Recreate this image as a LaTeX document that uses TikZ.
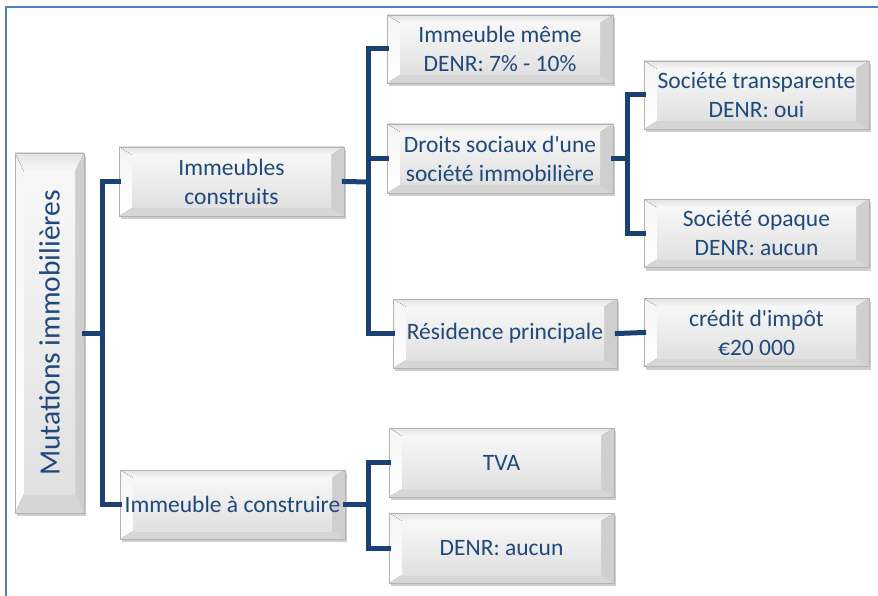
\documentclass[tikz,border=0pt]{standalone}
\usepackage{fontspec}
\setmainfont{Carlito}
\usetikzlibrary{calc,shadows}
\definecolor{txtblue}{RGB}{31,73,125}
\definecolor{connc}{RGB}{27,64,115}
\definecolor{framec}{RGB}{79,129,189}
\newcommand\bevelpic[2]{%
  \coordinate (pNW) at (path picture bounding box.north west);
  \coordinate (pNE) at (path picture bounding box.north east);
  \coordinate (pSE) at (path picture bounding box.south east);
  \coordinate (pSW) at (path picture bounding box.south west);
  \coordinate (qNW) at ($(pNW)+(#1,#2)$);
  \coordinate (qNE) at ($(pNE)+(-#1,#2)$);
  \coordinate (qSE) at ($(pSE)+(-#1,-#2)$);
  \coordinate (qSW) at ($(pSW)+(#1,-#2)$);
  \fill[top color=gray!22,bottom color=gray!6] (pNW)--(pNE)--(qNE)--(qNW)--cycle;
  \fill[top color=gray!8,bottom color=white] (pNW)--(qNW)--(qSW)--(pSW)--cycle;
  \fill[gray!38] (pNE)--(pSE)--(qSE)--(qNE)--cycle;
  \fill[gray!32] (pSW)--(qSW)--(qSE)--(pSE)--cycle;
  \shade[top color=gray!6,bottom color=gray!24] (qNW) rectangle (qSE);
}
\tikzset{
  box/.style={draw=gray!60, line width=0.8pt, text=txtblue, align=center,
    font=\fontsize{23.5}{29}\selectfont, inner sep=1pt,
    minimum width=225, minimum height=69,
    drop shadow={shadow xshift=2pt, shadow yshift=-3pt, fill=gray!70, opacity=0.55},
    path picture={\bevelpic{13}{8}}},
  rootbox/.style={box, minimum width=69, minimum height=360,
    font=\fontsize{29.5}{35}\selectfont,
    path picture={\bevelpic{9}{19}}},
  conn/.style={draw=connc, line width=5pt, line join=miter, line cap=rect},
}
\begin{document}
\begin{tikzpicture}[x=1pt,y=-1pt]
\useasboundingbox (0,0) rectangle (878,596);
\draw[framec, line width=1.8pt] (6,7) rectangle (900,620);

% nodes
\node[rootbox] (root) at (49.5,333) {\rotatebox{90}{Mutations immobilières}};
\node[box] (ic) at (231.5,181.5) {Immeubles\\construits};
\node[box] (iac) at (232.5,504.5) {Immeuble à construire};
\node[box, minimum width=226, minimum height=68] (im) at (500,49) {Immeuble même\\DENR: 7\% - 10\%};
\node[box, minimum width=226] (ds) at (500,158.5) {Droits sociaux d\textquotesingle une\\société immobilière};
\node[box, minimum width=224] (rp) at (505,333.5) {Résidence principale};
\node[box, minimum height=68] (st) at (756.5,95) {Société transparente\\DENR: oui};
\node[box, minimum height=68] (so) at (756.5,233.5) {Société opaque\\DENR: aucun};
\node[box, minimum height=68] (cr) at (756.5,332.5) {crédit d\textquotesingle impôt\\€20 000};
\node[box] (tva) at (501.5,462.5) {TVA};
\node[box, minimum height=70] (dn) at (501.5,548) {DENR: aucun};

% bus points
\coordinate (b1) at (102,333);
\coordinate (b2) at (368,182);
\coordinate (b3) at (627,158.5);
\coordinate (b4) at (368,504.5);

% connectors
\draw[conn] (root.east) -- (b1);
\draw[conn] (ic.west) -| (b1) |- (iac.west);
\draw[conn] (ic.east) -- (b2);
\draw[conn] (im.west) -| (b2) |- (rp.west);
\draw[conn] (ds.west) -| (b2);
\draw[conn] (ds.east) -- (b3);
\draw[conn] (st.west) -| (b3) |- (so.west);
\draw[conn] (rp.east) -- (cr.west);
\draw[conn] (iac.east) -- (b4);
\draw[conn] (tva.west) -| (b4) |- (dn.west);
\end{tikzpicture}
\end{document}
